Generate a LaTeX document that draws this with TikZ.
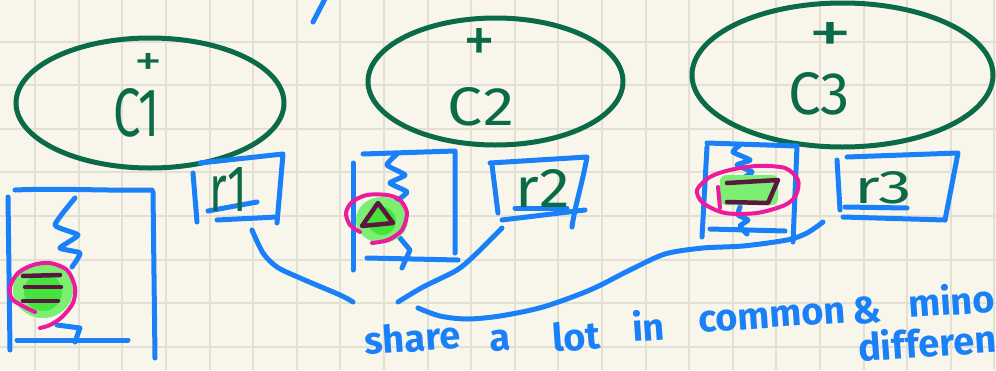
\documentclass[tikz,border=0pt]{standalone}
\usepackage{fontspec}
\usepackage{graphicx}
\setmainfont{Fira Sans}
\usetikzlibrary{shapes.geometric}
\definecolor{paper}{HTML}{F8F6EB}
\definecolor{gridc}{HTML}{E3E0D3}
\definecolor{pen}{HTML}{1A80F8}
\definecolor{ink}{HTML}{0B6B48}
\definecolor{hot}{HTML}{EC1A9C}
\definecolor{hl}{HTML}{7CEE72}
\definecolor{hlcore}{HTML}{44E43C}
\definecolor{plum}{HTML}{5C1740}
\tikzset{
  gridline/.style={draw=gridc, line width=2pt},
  bluestroke/.style={draw=pen, line width=5pt, line cap=round, line join=round},
  cloud/.style={ellipse, draw=ink, line width=5pt, inner sep=0pt},
  pinkstroke/.style={draw=hot, line width=4pt, line cap=round, line join=round},
  plumstroke/.style={draw=plum, line width=4.5pt, line cap=round, line join=round},
  greenlabel/.style={text=ink, inner sep=0pt, font=\mdseries},
  note/.style={text=pen, inner sep=0pt, anchor=base west, rotate=4, font=\fontsize{38}{38}\selectfont\bfseries},
}
\begin{document}
\begin{tikzpicture}[x=1pt,y=-1pt]
\useasboundingbox (0,0) rectangle (996,370);
\fill[paper] (0,0) rectangle (996,370);
\begin{scope}
\clip (0,0) rectangle (996,370);
\foreach \i in {0,...,22} \draw[gridline] ({35.2+43.6*\i},0) -- ({35.2+43.6*\i},370);
\foreach \i in {0,...,7} \draw[gridline] (0,{41.5+43.6*\i}) -- (996,{41.5+43.6*\i});

% stray top stroke
\coordinate (s1) at (313,22);
\coordinate (s2) at (326,-3);
\draw[bluestroke] (s1) -- (s2);

% clouds
\node[cloud, minimum width=268pt, minimum height=130pt] (c1) at (150,103) {};
\node[cloud, minimum width=255pt, minimum height=127pt] (c2) at (495.5,81.5) {};
\node[cloud, minimum width=301pt, minimum height=144pt] (c3) at (842.5,75) {};
\node[greenlabel] (p1) at (149,64) {\resizebox{28pt}{22pt}{+}};
\node[greenlabel] (p2) at (480,45) {\resizebox{32pt}{34pt}{+}};
\node[greenlabel] (p3) at (830,37) {\resizebox{44pt}{30pt}{+}};
\node[greenlabel] (t1) at (137,113) {\resizebox{46pt}{48pt}{C1}};
\node[greenlabel] (t2) at (481,107) {\resizebox{66pt}{38pt}{C2}};
\node[greenlabel] (t3) at (819,94) {\resizebox{62pt}{42pt}{C3}};

% box 1
\draw[bluestroke] (8,197) -- (10,350);
\draw[bluestroke] (15,190) .. controls (60,188) and (110,191) .. (152,190);
\draw[bluestroke] (153,192) -- (155,358);
\draw[bluestroke] (17,340) -- (128,340);
\draw[bluestroke] plot[smooth, tension=0.3] coordinates {(75,198) (55,225) (78,235) (60,248) (80,253) (72,267)};
\draw[bluestroke] (57,325) -- (80,328) -- (75,342);
\fill[hl] (43,290) ellipse [x radius=30, y radius=28];
\fill[hlcore] (43,292) circle [radius=19];
\draw[pinkstroke] plot[smooth] coordinates {(35,312) (13,300) (10,287) (18,273) (33,265) (50,263) (67,270) (75,287) (73,303) (62,317) (50,325) (40,328)};
\draw[plumstroke] (23,276) -- (60,275);
\draw[plumstroke] (25,287) -- (61,287);
\draw[plumstroke] (23,301) -- (58,301);

% r1 box
\draw[bluestroke] (200,163) -- (283,154) -- (277,223);
\draw[bluestroke] (193,173) -- (197,222);
\draw[bluestroke] (208,211) -- (257,202);
\draw[bluestroke] (217,220) -- (277,217);
\node[greenlabel] (r1) at (228,189) {\resizebox{38pt}{44pt}{r1}};

% box 2
\draw[bluestroke] (363,154) -- (455,151) -- (455,253);
\draw[bluestroke] (353,163) -- (353,270);
\draw[bluestroke] (367,258) -- (458,260);
\draw[bluestroke] plot[smooth, tension=0.3] coordinates {(397,154) (387,165) (405,175) (390,183) (407,192) (395,202)};
\draw[bluestroke] (400,238) -- (410,250) -- (402,268);
\fill[hl] (382,220) ellipse [x radius=26, y radius=23];
\fill[hlcore] (382,221) circle [radius=14];
\draw[pinkstroke] plot[smooth] coordinates {(372,243) (388,240) (402,230) (407,213) (400,200) (387,195) (367,195) (352,202) (346,213) (350,225) (360,232)};
\draw[plumstroke] (378,203) -- (362,226) -- (393,223) -- cycle;

% r2 box
\draw[bluestroke] (490,163) -- (587,157) .. controls (582,185) and (575,205) .. (572,227);
\draw[bluestroke] (492,165) -- (498,213);
\draw[bluestroke] (515,208) -- (567,208);
\draw[bluestroke] (502,220) -- (585,210);
\node[greenlabel] (r2) at (543,188) {\resizebox{54pt}{38pt}{r2}};

% box 3
\draw[bluestroke] (707,143) -- (797,146) -- (793,242);
\draw[bluestroke] (707,147) -- (702,237);
\draw[bluestroke] (710,229) -- (785,231);
\draw[bluestroke] plot[smooth, tension=0.3] coordinates {(740,145) (733,152) (750,160) (737,165) (752,172) (743,178)};
\draw[bluestroke] plot[smooth, tension=0.3] coordinates {(740,207) (738,215) (748,220) (740,226) (747,234)};
\fill[hl, rounded corners=6pt] (720,175) rectangle (778,205);
\draw[pinkstroke] plot[smooth cycle] coordinates {(697,190) (710,177) (730,170) (757,166) (785,168) (798,180) (796,195) (785,205) (757,213) (725,213) (703,203)};
\draw[pinkstroke] (718,187) -- (720,208);
\draw[plumstroke] (727,183) -- (778,180) -- (768,203) -- (727,202);

% r3 box
\draw[bluestroke] (847,157) -- (958,153) -- (945,220);
\draw[bluestroke] (837,160) -- (840,210);
\draw[bluestroke] (845,207) -- (907,208);
\draw[bluestroke] (843,217) -- (945,220);
\node[greenlabel] (r3) at (883,188) {\resizebox{58pt}{32pt}{r3}};

% connectors
\coordinate (r1foot) at (252,230);
\coordinate (r2foot) at (502,228);
\coordinate (b3foot) at (823,222);
\coordinate (tx1) at (353,302);
\coordinate (tx2) at (398,302);
\coordinate (tx3) at (418,308);
\draw[bluestroke] plot[smooth] coordinates {(r1foot) (263,253) (277,267) (300,278) (340,295) (tx1)};
\draw[bluestroke] plot[smooth] coordinates {(r2foot) (477,253) (457,270) (423,287) (tx2)};
\draw[bluestroke] plot[smooth] coordinates {(tx3) (440,316) (467,319) (500,316) (543,307) (590,290) (630,270) (665,254) (703,248) (743,246) (787,240) (807,233) (b3foot)};

% note
\node[note] (w1) at (365,355) {share};
\node[note] (w2) at (490,352) {a};
\node[note] (w3) at (553,352) {lot};
\node[note] (w4) at (633,342) {in};
\node[note] (w5) at (699,333) {common};
\node[note] (w6) at (853,325) {\&};
\node[note] (w7) at (909,318) {minor};
\node[note] (w8) at (859,362) {differences};
\end{scope}
\end{tikzpicture}
\end{document}
